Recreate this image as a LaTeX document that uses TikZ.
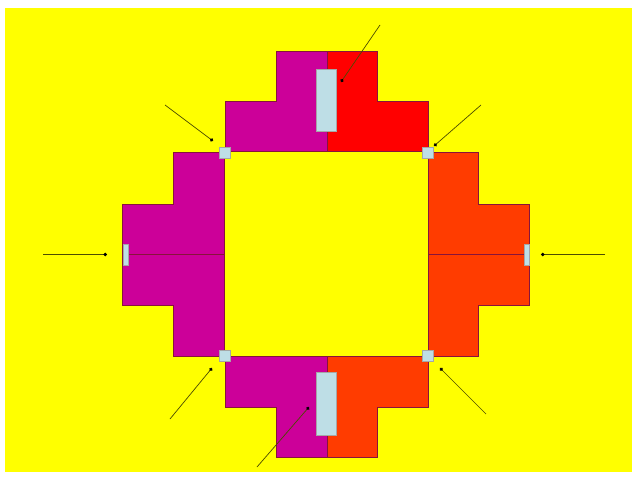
\documentclass[tikz,border=0pt]{standalone}
\usepackage{tikz}
\usetikzlibrary{arrows.meta}
\definecolor{bgyellow}{RGB}{255,255,0}
\definecolor{purplepart}{RGB}{204,0,153}
\definecolor{redpart}{RGB}{255,0,0}
\definecolor{orangepart}{RGB}{255,60,0}
\definecolor{edgepart}{RGB}{135,20,60}
\definecolor{padblue}{RGB}{190,222,230}
\begin{document}
\begin{tikzpicture}[x=1pt,y=-1pt,
  part/.style={draw=edgepart,line width=1pt},
  pad/.style={rectangle,draw=gray!70,line width=.6pt,fill=padblue,inner sep=0pt},
  arr/.style={-{Circle[length=1.2mm,width=1.2mm,black]},draw=black!70!bgyellow,line width=.7pt}]
\useasboundingbox (0,0) rectangle (636,481);
\fill[white] (0,0) rectangle (636,481);
\fill[bgyellow] (5,8) rectangle (632,472);
% top pair
\draw[part,fill=purplepart] (327,52) -- (276,52) -- (276,102) -- (225,102) -- (225,152) -- (327,152) -- cycle;
\draw[part,fill=redpart] (327,52) -- (377,52) -- (377,102) -- (428,102) -- (428,152) -- (327,152) -- cycle;
% bottom pair
\draw[part,fill=purplepart] (327,457) -- (276,457) -- (276,407) -- (225,407) -- (225,356) -- (327,356) -- cycle;
\draw[part,fill=orangepart] (327,457) -- (377,457) -- (377,407) -- (428,407) -- (428,356) -- (327,356) -- cycle;
% left and right
\draw[part,fill=purplepart] (224,153) -- (173,153) -- (173,204) -- (122,204) -- (122,305) -- (173,305) -- (173,356) -- (224,356) -- cycle;
\draw[part,fill=orangepart] (428,153) -- (478,153) -- (478,204) -- (529,204) -- (529,305) -- (478,305) -- (478,356) -- (428,356) -- cycle;
\draw[edgepart] (122,254.5) -- (224,254.5);
\draw[edgepart] (428,254.5) -- (529,254.5);
% pads
\node[pad,minimum width=20pt,minimum height=62pt] (padtop) at (326,100) {};
\node[pad,minimum width=20pt,minimum height=63pt] (padbot) at (326,404) {};
\node[pad,minimum width=5pt,minimum height=21pt] (padleft) at (125.5,254.5) {};
\node[pad,minimum width=5pt,minimum height=21pt] (padright) at (527,254.5) {};
\node[pad,minimum width=11pt,minimum height=11pt] (padnw) at (225,153) {};
\node[pad,minimum width=11pt,minimum height=11pt] (padne) at (428,153) {};
\node[pad,minimum width=11pt,minimum height=11pt] (padsw) at (225,356) {};
\node[pad,minimum width=11pt,minimum height=11pt] (padse) at (428,356) {};
% arrows
\coordinate (atop) at (380,25);
\coordinate (abot) at (257,467);
\coordinate (aleft) at (43,254.5);
\coordinate (aright) at (605,254.5);
\coordinate (anw) at (165,105);
\coordinate (ane) at (481,105);
\coordinate (asw) at (170,419);
\coordinate (ase) at (486,414);
\draw[arr] (atop) -- (341,82);
\draw[arr] (abot) -- (309,407);
\draw[arr] (aleft) -- (107,254.5);
\draw[arr] (aright) -- (541,254.5);
\draw[arr] (anw) -- (213,141);
\draw[arr] (ane) -- (434,146);
\draw[arr] (asw) -- (212,368);
\draw[arr] (ase) -- (440,368);
\end{tikzpicture}
\end{document}
